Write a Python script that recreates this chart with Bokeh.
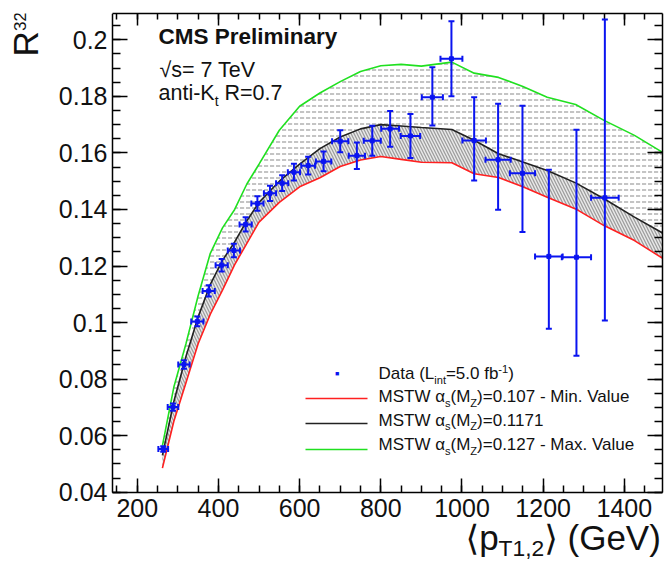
import math
from bokeh.plotting import figure
from bokeh.models import (ColumnDataSource, Whisker, TeeHead, Label, LinearAxis,
                          SingleIntervalTicker, Range1d, Arrow, NumeralTickFormatter)
from bokeh.embed import file_html
from bokeh.resources import INLINE

# ---------------- data ----------------
pt = [264, 288, 315, 348, 376, 408, 438, 467, 496, 527, 557, 586, 621, 659, 700,
      741, 779, 823, 873, 927, 974, 1030, 1089, 1149, 1214, 1282, 1352]
r32 = [0.0553, 0.0701, 0.0852, 0.1004, 0.1112, 0.1203, 0.1255, 0.1347, 0.1421, 0.1457,
       0.1493, 0.1532, 0.1555, 0.1570, 0.1641, 0.1590, 0.1643, 0.1685, 0.1660, 0.1797,
       0.1933, 0.1644, 0.1576, 0.1528, 0.1234, 0.1231, 0.1441]
r32_err_up = [0.0010, 0.0013, 0.0015, 0.0017, 0.0020, 0.0022, 0.0024, 0.0025, 0.0026, 0.0027,
              0.0028, 0.0030, 0.0031, 0.0035, 0.0039, 0.0047, 0.0053, 0.0063, 0.0078, 0.0106,
              0.0133, 0.0153, 0.0198, 0.0239, 0.0306, 0.0451, 0.0631]
r32_err_dn = [0.0010, 0.0013, 0.0015, 0.0017, 0.0020, 0.0022, 0.0024, 0.0025, 0.0026, 0.0027,
              0.0028, 0.0030, 0.0031, 0.0035, 0.0039, 0.0047, 0.0053, 0.0063, 0.0078, 0.0100,
              0.0133, 0.0142, 0.0177, 0.0208, 0.0256, 0.0348, 0.0434]
pt_err = [12, 13, 14, 15, 15, 15, 15, 15, 15, 15, 15, 15, 17, 19, 20, 20, 21, 22, 24, 26,
          27, 29, 31, 31, 34, 36, 34]

th_pt = [262, 290, 320, 350, 380, 410, 440, 470, 500, 550, 600, 650, 700, 750, 800, 850,
         900, 975, 1030, 1090, 1150, 1210, 1280, 1350, 1425, 1500]
r32_max = [0.0565, 0.0771, 0.0925, 0.1095, 0.1245, 0.1335, 0.1400, 0.1490, 0.1560, 0.1680,
           0.1765, 0.1812, 0.1852, 0.1888, 0.1908, 0.1913, 0.1907, 0.1921, 0.1882, 0.1867,
           0.1835, 0.1797, 0.1771, 0.1715, 0.1662, 0.1597]
r32_cen = [0.0530, 0.0720, 0.0880, 0.1020, 0.1135, 0.1220, 0.1285, 0.1360, 0.1425, 0.1500,
           0.1560, 0.1615, 0.1656, 0.1685, 0.1700, 0.1695, 0.1690, 0.1683, 0.1645, 0.1597,
           0.1568, 0.1538, 0.1494, 0.1438, 0.1373, 0.1312]
r32_min = [0.0485, 0.0650, 0.0787, 0.0925, 0.1030, 0.1115, 0.1205, 0.1280, 0.1355, 0.1425,
           0.1480, 0.1512, 0.1552, 0.1575, 0.1587, 0.1577, 0.1567, 0.1565, 0.1526, 0.1513,
           0.1480, 0.1443, 0.1402, 0.1343, 0.1290, 0.1222]

x_tick_step = 200
y_tick_step = 0.02

legend_data = [("Data (L", "n"), ("int", "sub"), ("=5.0 fb", "n"), ("-1", "sup"), (")", "n")]
legend_min = [("MSTW α", "n"), ("s", "sub"), ("(M", "n"), ("Z", "sub"), (")=0.107 - Min. Value", "n")]
legend_cen = [("MSTW α", "n"), ("s", "sub"), ("(M", "n"), ("Z", "sub"), (")=0.1171", "n")]
legend_max = [("MSTW α", "n"), ("s", "sub"), ("(M", "n"), ("Z", "sub"), (")=0.127 - Max. Value", "n")]

# ---------------- layout ----------------
W_, H_ = 667, 561
AXL, AXR, AXT, AXB = 112, 662, 13, 492     # pixel box of the axes
X0, X1 = 139, 1494                          # x range shown inside the axes box
Y0, Y1 = 0.0399, 0.2093                     # y range shown inside the axes box
SX = (X1 - X0) / (AXR - AXL)
SY = (Y1 - Y0) / (AXB - AXT)


def X(px):
    return X0 + (px - AXL) * SX


def Y(py):
    return Y0 + (AXB - py) * SY


FONT = "Liberation Sans, DejaVu Sans"
TXT = "#111111"

# frame reaches the canvas left and bottom edges; left/bottom axes sit at fixed locations
p = figure(width=W_, height=H_, x_range=Range1d(X(0), X1), y_range=Range1d(Y(H_), Y1),
           output_backend="svg", toolbar_location=None,
           min_border_left=0, min_border_right=W_ - AXR,
           min_border_top=AXT, min_border_bottom=0)
p.background_fill_color = "white"
p.border_fill_color = "white"
p.xgrid.visible = False
p.ygrid.visible = False
p.outline_line_color = None

xt = SingleIntervalTicker(interval=x_tick_step, num_minor_ticks=4)
yt = SingleIntervalTicker(interval=y_tick_step, num_minor_ticks=4)

for ax in p.xaxis:
    ax.ticker = xt
    ax.fixed_location = Y0
    ax.bounds = (X0, X1)
    ax.major_tick_in, ax.major_tick_out = 14, 0
    ax.minor_tick_in, ax.minor_tick_out = 7, 0
    ax.axis_line_width = 1.5
    ax.major_tick_line_width = 1.5
    ax.minor_tick_line_width = 1.5
    ax.major_label_text_font = FONT
    ax.major_label_text_font_size = "25px"
    ax.major_label_text_color = TXT
    ax.major_label_standoff = 6
for ax in p.yaxis:
    ax.ticker = yt
    ax.fixed_location = X0
    ax.bounds = (Y0, Y1)
    ax.formatter = NumeralTickFormatter(format="0.[00]")
    ax.major_tick_in, ax.major_tick_out = 15, 0
    ax.minor_tick_in, ax.minor_tick_out = 8, 0
    ax.axis_line_width = 1.5
    ax.major_tick_line_width = 1.5
    ax.minor_tick_line_width = 1.5
    ax.major_label_text_font = FONT
    ax.major_label_text_font_size = "25px"
    ax.major_label_text_color = TXT
    ax.major_label_standoff = 5

top = LinearAxis(ticker=xt, bounds=(X0, X1), major_label_text_font_size="0px",
                 major_label_text_color=None, major_label_standoff=0,
                 major_tick_in=12, major_tick_out=0, minor_tick_in=6, minor_tick_out=0,
                 axis_line_width=1.5, major_tick_line_width=1.5, minor_tick_line_width=1.5)
right = LinearAxis(ticker=yt, bounds=(Y0, Y1), major_label_text_font_size="0px",
                   major_label_text_color=None, major_label_standoff=0,
                   major_tick_in=15, major_tick_out=0, minor_tick_in=8, minor_tick_out=0,
                   axis_line_width=1.5, major_tick_line_width=1.5, minor_tick_line_width=1.5)
p.add_layout(top, "above")
p.add_layout(right, "right")

# ---------------- band and curves ----------------
th = ColumnDataSource(dict(x=th_pt, lo=r32_min, mid=r32_cen, hi=r32_max))
p.varea(x="x", y1="mid", y2="hi", source=th, fill_alpha=0,
        hatch_pattern="horizontal_dash", hatch_color="#9a9a9a", hatch_scale=6,
        hatch_weight=1.3, hatch_alpha=0.9)
p.varea(x="x", y1="lo", y2="mid", source=th, fill_color="#d4d4d4", fill_alpha=0.5,
        hatch_pattern="left_diagonal_line", hatch_color="#909090", hatch_scale=6,
        hatch_weight=1.3, hatch_alpha=0.85)
p.line(x="x", y="lo", source=th, line_color="#ff2020", line_width=1.6)
p.line(x="x", y="mid", source=th, line_color="#222222", line_width=1.6)
p.line(x="x", y="hi", source=th, line_color="#20e020", line_width=1.6)

# ---------------- data points ----------------
src = ColumnDataSource(dict(
    x=pt, y=r32,
    ylo=[v - e for v, e in zip(r32, r32_err_dn)],
    yhi=[v + e for v, e in zip(r32, r32_err_up)],
    xlo=[v - e for v, e in zip(pt, pt_err)],
    xhi=[v + e for v, e in zip(pt, pt_err)],
))
BLUE = "#0a14f0"
wy = Whisker(source=src, base="x", upper="yhi", lower="ylo", dimension="height",
             line_color=BLUE, line_width=2, level="annotation",
             upper_head=TeeHead(size=6, line_color=BLUE, line_width=2),
             lower_head=TeeHead(size=6, line_color=BLUE, line_width=2))
wx = Whisker(source=src, base="y", upper="xhi", lower="xlo", dimension="width",
             line_color=BLUE, line_width=2, level="annotation",
             upper_head=TeeHead(size=6, line_color=BLUE, line_width=2),
             lower_head=TeeHead(size=6, line_color=BLUE, line_width=2))
p.add_layout(wy)
p.add_layout(wx)
p.scatter(x="x", y="y", source=src, marker="square", size=4, color=BLUE)

# ---------------- text helpers ----------------
AW = {' ': 278, '(': 333, ')': 333, ',': 278, '-': 333, '.': 278, '=': 584,
      '0': 556, '1': 556, '2': 556, '3': 556, '4': 556, '5': 556, '6': 556, '7': 556,
      '8': 556, '9': 556, 'C': 722, 'D': 722, 'G': 778, 'K': 667, 'L': 556, 'M': 833,
      'P': 667, 'R': 722, 'S': 667, 'T': 611, 'V': 667, 'W': 944, 'Z': 611,
      'a': 556, 'b': 556, 'e': 556, 'f': 278, 'i': 222, 'l': 222, 'm': 833, 'n': 556,
      'p': 556, 'r': 333, 's': 500, 't': 278, 'u': 556, 'y': 500,
      'α': 578, '√': 549, '⟨': 390, '⟩': 390}


def tw(s, size):
    return sum(AW.get(c, 556) for c in s) * size / 1000.0


def put(text, px, py, size, bold=False, angle=0.0, align="left"):
    """py is the text baseline in pixels; anchored on the middle line."""
    p.add_layout(Label(x=X(px), y=Y(py - 0.35 * size), text=text, text_font=FONT,
                       text_font_size=f"{size:.1f}px",
                       text_font_style="bold" if bold else "normal",
                       text_color=TXT, angle=angle, text_align=align,
                       text_baseline="middle"))


def rich(parts, px, py, size, sub_shift=0.25):
    x = px
    for text, kind in parts:
        if kind == "n":
            fs, dy = size, 0.0
        elif kind == "sub":
            fs, dy = size * 0.65, size * sub_shift
        else:
            fs, dy = size * 0.65, -size * 0.40
        lead = len(text) - len(text.lstrip(" "))
        x += tw(" " * lead, fs)
        body = text.lstrip(" ")
        put(body, x, py + dy, fs)
        x += tw(body, fs)


# header texts
put("CMS Preliminary", 158, 44, 22.5, bold=True)
put("√s= 7 TeV", 159, 77, 21.5)
rich([("anti-K", "n"), ("t", "sub"), (" R=0.7", "n")], 158, 100, 21.5)

# axis titles
p.add_layout(Label(x=X(25), y=Y(56), text="R", text_font=FONT, text_font_size="35px",
                   text_color=TXT, angle=math.pi / 2, text_align="left", text_baseline="middle"))
p.add_layout(Label(x=X(19), y=Y(30.5), text="32", text_font=FONT, text_font_size="17px",
                   text_color=TXT, angle=math.pi / 2, text_align="left", text_baseline="middle"))
rich([("⟨p", "n"), ("T1,2", "sub"), ("⟩ (GeV)", "n")], 465, 549, 35, sub_shift=0.19)

# legend
LS = 17
p.add_layout(Arrow(x_start=X(305), y_start=Y(398), x_end=X(367), y_end=Y(398), start=None, end=None,
                   line_color="#ff2020", line_width=1.6))
p.add_layout(Arrow(x_start=X(305), y_start=Y(423), x_end=X(367), y_end=Y(423), start=None, end=None,
                   line_color="#222222", line_width=1.6))
p.add_layout(Arrow(x_start=X(305), y_start=Y(449), x_end=X(367), y_end=Y(449), start=None, end=None,
                   line_color="#20e020", line_width=1.6))
p.add_layout(Label(x=X(336.7), y=Y(373.3), text="■", text_font=FONT, text_font_size="7px",
                   text_color=BLUE, text_align="center", text_baseline="middle"))
rich(legend_data, 378, 379, LS)
rich(legend_min, 378, 402, LS)
rich(legend_cen, 378, 425.5, LS)
rich(legend_max, 378, 450, LS)

open("out.html", "w").write(file_html(p, INLINE))
